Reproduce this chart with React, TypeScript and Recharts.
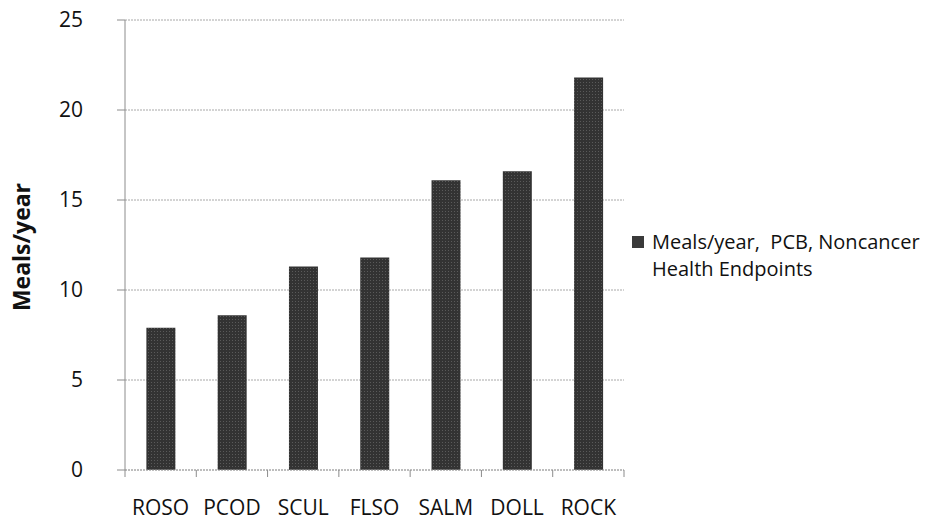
import { BarChart, Bar, XAxis, YAxis, CartesianGrid, Legend, Label } from 'recharts'

// fish species codes, meals per year (PCB, noncancer endpoints)
const CATEGORIES = ['ROSO', 'PCOD', 'SCUL', 'FLSO', 'SALM', 'DOLL', 'ROCK']
const MEALS = [7.9, 8.6, 11.3, 11.8, 16.1, 16.6, 21.8]
const Y_TICKS = [0, 5, 10, 15, 20, 25]
const SERIES_NAME = 'Meals/year,  PCB, Noncancer Health Endpoints'

const data = CATEGORIES.map((name, i) => ({ name, meals: MEALS[i] }))

const FONT = '"Open Sans", "Liberation Sans", sans-serif'
const PLOT_W = 499
const BAND = PLOT_W / CATEGORIES.length

function XTick(props: any) {
  const { x, y, payload, index } = props
  const last = index === CATEGORIES.length - 1
  return (
    <g>
      <line x1={x - BAND / 2} x2={x - BAND / 2} y1={470} y2={477} stroke="#8c8c8c" />
      {last && <line x1={x + BAND / 2} x2={x + BAND / 2} y1={470} y2={477} stroke="#8c8c8c" />}
      <text x={x} y={y + 37} textAnchor="middle" fontSize={21} fontFamily={FONT} fill="#111">
        {payload.value}
      </text>
    </g>
  )
}

function LegendBox() {
  return (
    <div style={{ display: 'flex', fontFamily: FONT, fontSize: 20, color: '#111', lineHeight: '27px' }}>
      <span
        style={{
          width: 12,
          height: 12,
          marginTop: 8,
          marginRight: 8,
          flex: 'none',
          backgroundColor: '#3a3a3a',
        }}
      />
      <span style={{ whiteSpace: 'pre' }}>
        {'Meals/year,  PCB, Noncancer\nHealth Endpoints'}
      </span>
    </div>
  )
}

export default function App() {
  return (
    <div style={{ position: 'absolute', left: 0, top: 0, width: 946, height: 521, background: '#fff' }}>
      <BarChart
        width={946}
        height={521}
        data={data}
        margin={{ top: 20, right: 10, left: 0, bottom: 0 }}
        barCategoryGap="30%"
      >
        <defs>
          <pattern id="dots" width="3" height="3" patternUnits="userSpaceOnUse">
            <rect width="3" height="3" fill="#333333" />
            <rect x="1" y="1" width="1" height="1" fill="#5a5a5a" />
          </pattern>
        </defs>
        <CartesianGrid vertical={false} stroke="#a8a8a8" strokeDasharray="2 1" />
        <XAxis
          dataKey="name"
          height={51}
          axisLine={{ stroke: '#a8a8a8', strokeDasharray: '2 1' }}
          tickLine={false}
          tick={<XTick />}
          interval={0}
        />
        <YAxis
          width={125}
          domain={[0, 25]}
          ticks={Y_TICKS}
          interval={0}
          axisLine={{ stroke: '#8c8c8c' }}
          tickLine={{ stroke: '#8c8c8c' }}
          tickSize={8}
          tickMargin={34}
          tick={{ fontSize: 21, fontFamily: FONT, fill: '#111' }}
        >
          <Label
            content={() => (
              <text
                x={30}
                y={247}
                transform="rotate(-90 30 247)"
                textAnchor="middle"
                fontSize={23}
                fontWeight="bold"
                fontFamily={FONT}
                fill="#111"
              >
                Meals/year
              </text>
            )}
          />
        </YAxis>
        <Legend
          layout="vertical"
          align="right"
          verticalAlign="middle"
          content={<LegendBox />}
          wrapperStyle={{ left: 632, top: 228, width: 312 }}
        />
        <Bar dataKey="meals" name={SERIES_NAME} fill="url(#dots)" isAnimationActive={false} />
      </BarChart>
    </div>
  )
}
